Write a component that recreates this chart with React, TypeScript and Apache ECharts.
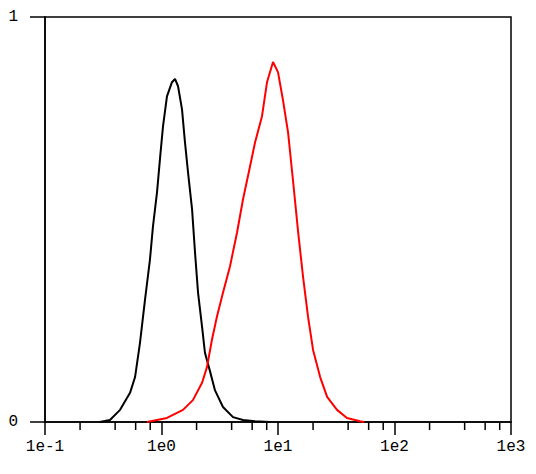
import React, { useEffect, useRef } from 'react';
import * as echarts from 'echarts';

// fluorescence (log scale) and normalised count
const blackX = [0.296, 0.361, 0.441, 0.537, 0.593, 0.654, 0.722, 0.796, 0.845, 0.915, 0.97, 1.03, 1.114, 1.23, 1.306, 1.387, 1.5, 1.59, 1.69, 1.83, 1.94, 2.06, 2.23, 2.36, 2.61, 2.88, 3.37, 4.11, 5.01, 6.35, 8.54];
const blackY = [0, 0.005, 0.03, 0.072, 0.111, 0.196, 0.302, 0.401, 0.483, 0.567, 0.649, 0.73, 0.804, 0.839, 0.847, 0.829, 0.772, 0.691, 0.616, 0.525, 0.418, 0.319, 0.235, 0.171, 0.125, 0.078, 0.037, 0.012, 0.005, 0.002, 0];

const redX = [0.751, 1.114, 1.53, 1.86, 2.23, 2.46, 2.71, 2.99, 3.37, 3.87, 4.45, 5.01, 5.75, 6.35, 7.29, 8.05, 9.06, 10.0, 11.0, 12.2, 13.5, 14.9, 16.4, 18.1, 20.0, 23.0, 26.4, 32.1, 39.1, 50.6, 55.0];
const redY = [0, 0.01, 0.03, 0.054, 0.097, 0.136, 0.203, 0.26, 0.319, 0.384, 0.468, 0.55, 0.631, 0.69, 0.755, 0.839, 0.889, 0.864, 0.797, 0.715, 0.592, 0.468, 0.359, 0.26, 0.178, 0.111, 0.062, 0.03, 0.01, 0.002, 0];

const minorTicks = [0.2, 0.4, 0.6, 0.8, 2, 4, 6, 8, 20, 40, 60, 80, 200, 400, 600, 800];

const labelFont = {
  fontFamily: 'Liberation Mono',
  fontSize: 16,
  color: '#000',
};

const App: React.FC = () => {
  const chartRef = useRef<HTMLDivElement>(null);

  useEffect(() => {
    const chart = echarts.init(chartRef.current!, null, { renderer: 'svg' });

    const option = {
      animation: false,
      grid: {
        left: 45,
        top: 17,
        right: 25,
        bottom: 52,
        show: true,
        borderColor: '#000',
        borderWidth: 1.5,
      },
      xAxis: {
        type: 'log',
        logBase: 10,
        min: 0.1,
        max: 1000,
        splitLine: { show: false },
        axisLine: { lineStyle: { color: '#000', width: 1.5 } },
        axisTick: { length: 13, lineStyle: { color: '#000', width: 1.5 } },
        axisLabel: {
          ...labelFont,
          margin: 17,
          formatter: (v: number) => `1e${Math.round(Math.log10(v))}`,
        },
      },
      yAxis: {
        type: 'value',
        min: 0,
        max: 1,
        interval: 1,
        splitLine: { show: false },
        axisLine: { lineStyle: { color: '#000', width: 1.5 } },
        axisTick: { length: 15, lineStyle: { color: '#000', width: 1.5 } },
        axisLabel: { ...labelFont, margin: 27 },
      },
      series: [
        {
          type: 'line',
          data: blackX.map((x, i) => [x, blackY[i]]),
          showSymbol: false,
          lineStyle: { color: '#000', width: 2 },
        },
        {
          type: 'line',
          data: redX.map((x, i) => [x, redY[i]]),
          showSymbol: false,
          lineStyle: { color: '#f00', width: 2 },
        },
        {
          // short minor ticks at 2,4,6,8 of every decade
          type: 'custom',
          clip: false,
          silent: true,
          data: minorTicks.map((v) => [v, 0]),
          renderItem: (params: any, api: any) => {
            const p = api.coord([api.value(0), 0]);
            return {
              type: 'line',
              shape: { x1: p[0], y1: p[1], x2: p[0], y2: p[1] + 8 },
              style: { stroke: '#000', lineWidth: 1.5 },
            };
          },
        },
      ],
    };

    chart.setOption(option);

    return () => {
      chart.dispose();
    };
  }, []);

  return (
    <div
      ref={chartRef}
      style={{ position: 'fixed', left: 0, top: 0, width: 536, height: 474, background: '#fff' }}
    />
  );
};

export default App;
